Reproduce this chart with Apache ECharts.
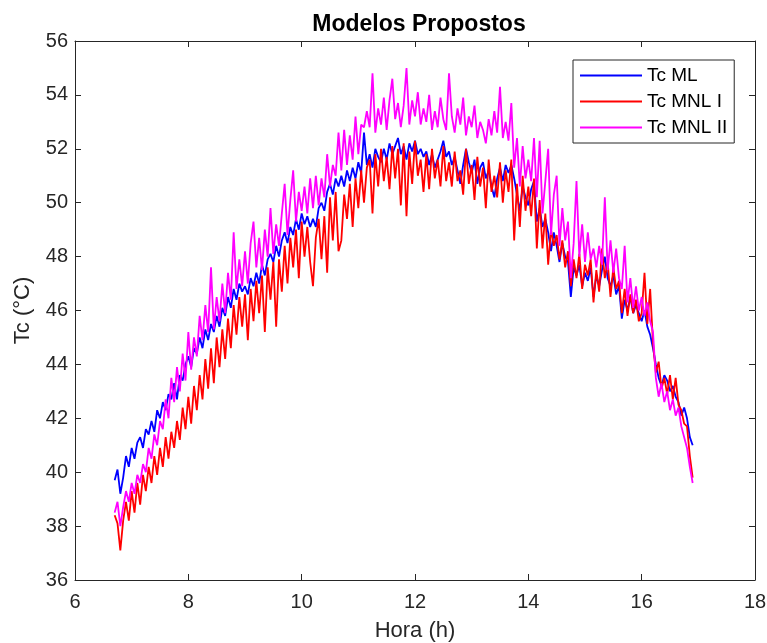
<!DOCTYPE html>
<html>
<head>
<meta charset="utf-8">
<script src="https://cdn.jsdelivr.net/npm/echarts@6/dist/echarts.min.js"></script>
<style>
  html, body { margin: 0; padding: 0; background: #fff; }
  #chart { width: 767px; height: 643px; }
</style>
</head>
<body>
<div id="chart"></div>
<script>
// ─── data (every 0.05 h) ────────────────────────────────────────
const hours = [
  6.70, 6.75, 6.80, 6.85, 6.90, 6.95, 7.00, 7.05, 7.10, 7.15,
  7.20, 7.25, 7.30, 7.35, 7.40, 7.45, 7.50, 7.55, 7.60, 7.65,
  7.70, 7.75, 7.80, 7.85, 7.90, 7.95, 8.00, 8.05, 8.10, 8.15,
  8.20, 8.25, 8.30, 8.35, 8.40, 8.45, 8.50, 8.55, 8.60, 8.65,
  8.70, 8.75, 8.80, 8.85, 8.90, 8.95, 9.00, 9.05, 9.10, 9.15,
  9.20, 9.25, 9.30, 9.35, 9.40, 9.45, 9.50, 9.55, 9.60, 9.65,
  9.70, 9.75, 9.80, 9.85, 9.90, 9.95, 10.00, 10.05, 10.10, 10.15,
  10.20, 10.25, 10.30, 10.35, 10.40, 10.45, 10.50, 10.55, 10.60, 10.65,
  10.70, 10.75, 10.80, 10.85, 10.90, 10.95, 11.00, 11.05, 11.10, 11.15,
  11.20, 11.25, 11.30, 11.35, 11.40, 11.45, 11.50, 11.55, 11.60, 11.65,
  11.70, 11.75, 11.80, 11.85, 11.90, 11.95, 12.00, 12.05, 12.10, 12.15,
  12.20, 12.25, 12.30, 12.35, 12.40, 12.45, 12.50, 12.55, 12.60, 12.65,
  12.70, 12.75, 12.80, 12.85, 12.90, 12.95, 13.00, 13.05, 13.10, 13.15,
  13.20, 13.25, 13.30, 13.35, 13.40, 13.45, 13.50, 13.55, 13.60, 13.65,
  13.70, 13.75, 13.80, 13.85, 13.90, 13.95, 14.00, 14.05, 14.10, 14.15,
  14.20, 14.25, 14.30, 14.35, 14.40, 14.45, 14.50, 14.55, 14.60, 14.65,
  14.70, 14.75, 14.80, 14.85, 14.90, 14.95, 15.00, 15.05, 15.10, 15.15,
  15.20, 15.25, 15.30, 15.35, 15.40, 15.45, 15.50, 15.55, 15.60, 15.65,
  15.70, 15.75, 15.80, 15.85, 15.90, 15.95, 16.00, 16.05, 16.10, 16.15,
  16.20, 16.25, 16.30, 16.35, 16.40, 16.45, 16.50, 16.55, 16.60, 16.65,
  16.70, 16.75, 16.80, 16.85, 16.90
]

const tcML = [
  39.7, 40.1, 39.2, 39.8, 40.6, 40.2, 40.9, 40.5, 41.1, 41.3,
  40.9, 41.6, 41.4, 41.9, 41.5, 42.3, 42.0, 42.6, 42.3, 42.9,
  42.7, 43.3, 42.7, 43.6, 43.4, 44.0, 44.3, 43.9, 44.6, 44.4,
  45.0, 44.6, 45.3, 44.9, 45.5, 45.2, 45.8, 45.4, 46.1, 45.8,
  46.5, 46.1, 46.8, 46.4, 47.0, 46.7, 46.9, 46.6, 47.2, 46.9,
  47.4, 47.0, 47.7, 47.3, 47.9, 48.1, 47.8, 48.4, 48.0, 48.6,
  48.9, 48.5, 49.1, 48.8, 49.4, 49.0, 49.6, 49.2, 49.5, 49.1,
  49.4, 49.1, 49.8, 50.0, 49.7, 50.4, 50.7, 50.3, 50.9, 50.6,
  51.0, 50.6, 51.2, 50.8, 51.3, 50.9, 51.5, 51.1, 52.6, 51.4,
  51.8, 51.3, 52.0, 51.7, 51.5, 52.0, 51.6, 52.2, 51.8, 52.1,
  52.4, 51.8, 52.1, 51.6, 52.2, 51.9, 52.3, 51.8, 52.0, 51.7,
  51.9, 51.4, 51.8, 51.3, 51.6, 51.9, 52.3, 51.7, 51.9, 51.4,
  51.7, 51.2, 50.7, 51.4, 52.0, 51.5, 51.1, 51.6, 50.7, 51.3,
  51.5, 50.9, 51.2, 50.6, 50.2, 50.9, 51.3, 50.8, 51.4, 51.1,
  51.4, 50.9, 50.3, 49.7, 50.6, 50.2, 49.9, 50.5, 50.8, 49.3,
  49.8, 49.1, 49.4, 48.9, 48.2, 48.9, 48.4, 47.8, 48.5, 48.0,
  47.8, 46.5, 47.6, 47.3, 47.7, 46.9, 47.4, 47.1, 47.6, 46.5,
  47.3, 46.9, 47.5, 48.0, 47.2, 46.9, 47.3, 46.6, 46.9, 45.7,
  46.4, 46.0, 46.5, 45.9, 46.2, 45.9, 45.6, 46.0, 45.4, 45.1,
  44.6, 44.0, 43.5, 43.2, 43.6, 43.4, 43.0, 43.2, 42.8, 42.6,
  42.1, 42.4, 42.0, 41.3, 41.0
]

const tcMNL1 = [
  38.4, 38.1, 37.1, 38.2, 38.9, 38.2, 39.3, 38.5, 39.6, 38.8,
  39.9, 39.3, 40.2, 39.6, 40.6, 39.9, 40.9, 40.2, 41.3, 40.5,
  41.5, 40.9, 41.9, 41.2, 42.4, 41.6, 42.8, 41.8, 43.2, 42.3,
  43.6, 42.7, 44.2, 43.1, 44.6, 43.3, 45.0, 43.9, 45.3, 44.2,
  45.7, 44.6, 46.2, 45.1, 46.5, 45.4, 46.6, 44.9, 46.8, 45.6,
  47.1, 45.9, 47.3, 45.2, 47.6, 46.4, 47.8, 45.4, 47.9, 46.7,
  48.4, 47.0, 48.7, 47.6, 49.0, 47.2, 49.3, 48.0, 49.1, 47.8,
  46.9, 48.7, 49.4, 47.9, 49.5, 47.4, 50.2, 48.6, 50.4, 48.2,
  48.6, 50.3, 49.4, 50.7, 49.1, 50.9, 49.8, 51.2, 50.0, 51.3,
  51.6, 49.6, 51.8, 50.6, 52.0, 50.8, 51.7, 50.5, 52.1, 50.9,
  52.0, 49.9, 52.2, 49.5, 51.9, 50.7, 52.3, 51.0, 51.6, 50.4,
  51.8, 50.5, 52.0, 50.9, 51.6, 50.6, 52.1, 50.8, 51.5, 50.6,
  51.9, 50.8, 51.2, 50.3, 52.0, 50.7, 51.4, 50.1, 51.7, 50.6,
  51.3, 49.8, 51.6, 50.4, 51.0, 50.2, 51.5, 50.0, 51.2, 50.4,
  51.6, 48.6, 50.7, 49.1, 51.0, 49.7, 50.6, 49.5, 50.9, 48.3,
  50.1, 48.3, 49.6, 47.7, 49.0, 48.4, 48.8, 47.9, 48.6, 47.6,
  48.2, 46.9, 47.9, 47.2, 48.1, 46.8, 47.7, 47.3, 47.9, 46.3,
  47.5, 46.7, 48.3, 47.2, 47.8, 46.5, 47.6, 46.8, 47.1, 45.9,
  46.8, 45.8, 46.6, 45.9, 46.4, 45.6, 45.9, 47.4, 45.5, 46.8,
  44.8, 43.7, 44.1, 43.1, 43.5, 42.9, 43.6, 42.7, 43.5, 42.5,
  42.3, 41.8, 41.7, 40.6, 39.8
]

const tcMNL2 = [
  38.5, 38.9, 38.0, 38.7, 39.3, 38.9, 39.6, 39.2, 39.9, 39.6,
  40.3, 40.0, 40.9, 40.5, 41.4, 41.0, 41.9, 41.6, 42.7, 42.0,
  43.5, 42.6, 43.9, 43.0, 44.4, 43.4, 45.2, 43.8, 45.0, 44.3,
  45.8, 44.9, 46.2, 45.2, 47.6, 45.3, 46.5, 45.6, 47.0, 45.9,
  47.4, 46.4, 48.9, 46.8, 47.9, 46.9, 48.2, 47.0, 48.5, 49.3,
  47.6, 48.7, 47.5, 49.0, 48.0, 49.8, 48.1, 49.2, 48.4, 49.6,
  50.7, 48.8, 50.1, 51.2, 49.3, 50.4, 49.7, 50.6, 49.6, 50.9,
  49.8, 51.0, 49.9, 50.9, 50.2, 51.8, 50.6, 51.4, 51.0, 52.6,
  51.2, 52.7, 51.4, 52.5, 51.6, 53.2, 51.8, 52.9, 52.8, 53.4,
  52.8, 54.8, 52.6, 53.5, 52.9, 53.9, 52.7, 53.8, 54.6, 53.1,
  53.7, 52.8, 53.6, 55.0, 52.9, 53.8, 53.2, 54.1, 52.9, 53.5,
  53.0, 54.0, 52.7, 53.4, 52.8, 53.9, 53.1, 52.7, 54.8, 53.2,
  52.6, 53.5, 52.9, 53.9, 52.5, 53.2, 52.8, 53.6, 52.4, 53.0,
  52.7, 52.2, 53.1, 52.5, 53.4, 52.6, 54.3, 52.4, 53.0, 52.3,
  53.7, 51.3, 52.4, 50.6, 52.1, 50.9, 51.6, 50.8, 52.4, 50.2,
  52.3, 49.6, 50.8, 52.0, 48.8, 50.3, 51.0, 48.4, 49.8, 48.6,
  49.3, 47.2, 48.5, 50.8, 48.0, 49.2, 47.8, 48.9, 47.9, 48.3,
  47.6, 48.4, 47.7, 50.2, 47.5, 48.6, 47.4, 48.3, 47.2, 46.8,
  48.4, 46.3, 47.2, 46.1, 46.9, 46.0, 46.5, 45.8, 46.3, 45.6,
  45.2, 43.5, 42.8, 43.3, 42.6, 43.0, 42.3, 42.7, 42.1, 42.4,
  41.7, 41.3, 40.9, 40.2, 39.6
]

const seriesNames  = ['Tc ML', 'Tc MNL I', 'Tc MNL II']
const seriesColors = ['#0000ff', '#ff0000', '#ff00ff']
const seriesValues = [tcML, tcMNL1, tcMNL2]

// ─── chart ──────────────────────────────────────────────────────
const axisColor = '#262626'
const font = 'Liberation Sans, Arial, sans-serif'

const chart = echarts.init(document.getElementById('chart'))

// frame axes: ticks inside on all four sides (MATLAB "box on")
const frameAxis = (extra) => Object.assign({
  type: 'value',
  axisLine: { show: true, lineStyle: { color: axisColor, width: 1 } },
  axisTick: { show: true, inside: true, length: 6, lineStyle: { color: axisColor } },
  axisLabel: { show: false },
  splitLine: { show: false },
}, extra)

chart.setOption({
  animation: false,
  backgroundColor: '#fff',
  title: {
    text: 'Modelos Propostos',
    left: 414, top: 8, textAlign: 'center',
    textStyle: { fontFamily: font, fontSize: 23, fontWeight: 'bold', color: '#000' },
  },
  legend: {
    data: seriesNames,
    orient: 'vertical',
    left: 573, top: 60,
    padding: [6, 7, 6, 7],
    icon: 'rect',
    itemWidth: 62, itemHeight: 2, itemGap: 7,
    borderColor: axisColor, borderWidth: 1,
    backgroundColor: '#fff',
    textStyle: { fontFamily: font, fontSize: 19, color: '#000', lineHeight: 19 },
  },
  grid: { left: 75, right: 12, top: 41, bottom: 63, outerBoundsMode: 'none' },
  xAxis: [
    frameAxis({
      min: 6, max: 18, interval: 2,
      name: 'Hora (h)', nameLocation: 'middle', nameGap: 40,
      nameTextStyle: { fontFamily: font, fontSize: 22, color: axisColor },
      axisLabel: { show: true, margin: 12, fontFamily: font, fontSize: 20, color: axisColor },
    }),
    frameAxis({ min: 6, max: 18, interval: 2, position: 'top' }),
  ],
  yAxis: [
    frameAxis({
      min: 36, max: 56, interval: 2,
      name: 'Tc (°C)', nameLocation: 'middle', nameGap: 41, nameRotate: 90,
      nameTextStyle: { fontFamily: font, fontSize: 22, color: axisColor },
      axisLabel: { show: true, margin: 7, fontFamily: font, fontSize: 20, color: axisColor },
    }),
    frameAxis({ min: 36, max: 56, interval: 2, position: 'right' }),
  ],
  series: seriesNames.map((name, i) => ({
    name,
    type: 'line',
    xAxisIndex: 0,
    yAxisIndex: 0,
    symbol: 'none',
    color: seriesColors[i],
    lineStyle: { color: seriesColors[i], width: 1.8 },
    data: hours.map((h, k) => [h, seriesValues[i][k]]),
  })),
})
</script>
</body>
</html>
